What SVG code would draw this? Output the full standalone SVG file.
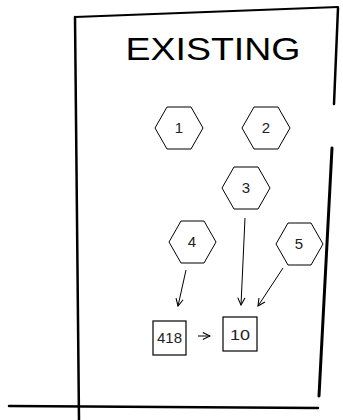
<svg xmlns="http://www.w3.org/2000/svg" width="343" height="420" viewBox="0 0 343 420">
<style>
.frame{stroke:#000;stroke-linecap:round;fill:none}
.hex{fill:#fff;stroke:#000;stroke-width:1}
.num{font-family:"Liberation Sans",Arial,sans-serif;font-size:15px;fill:#222;text-anchor:middle}
.con{stroke:#000;stroke-width:1;fill:none}
.box{fill:#fff;stroke:#000;stroke-width:1.2}
</style>
<defs>
<marker id="ah" viewBox="0 0 10 10" refX="9" refY="5" markerWidth="9" markerHeight="9" orient="auto" markerUnits="userSpaceOnUse">
<path d="M1,1 L9,5 L1,9" fill="none" stroke="#000" stroke-width="1.2"/>
</marker>
</defs>
<rect width="343" height="420" fill="#fff"/>
<g id="frame">
<path class="frame" stroke-width="2" d="M75,17 L338,7"/>
<path class="frame" stroke-width="2.5" d="M75,17 L79,420"/>
<path class="frame" stroke-width="2.5" d="M338,8 L334,104"/>
<path class="frame" stroke-width="3" d="M332,148 L319,396"/>
<path class="frame" stroke-width="2.5" d="M9,406 L318,408"/>
</g>
<g id="title">
<text x="213" y="60" text-anchor="middle" font-family="'Liberation Sans',Arial,sans-serif" font-size="32" textLength="175" lengthAdjust="spacingAndGlyphs" fill="#000">EXISTING</text>
</g>
<g id="n1"><polygon class="hex" points="155,128 167,107 191,107 203,128 191,149 167,149"/><text class="num" x="179" y="133">1</text></g>
<g id="n2"><polygon class="hex" points="242,128 254,107 278,107 290,128 278,149 254,149"/><text class="num" x="266" y="133">2</text></g>
<g id="n3"><polygon class="hex" points="222,188 234,167 258,167 270,188 258,209 234,209"/><text class="num" x="246" y="193">3</text></g>
<g id="n4"><polygon class="hex" points="169,242 181,221 204,221 216,242 204,263 181,263"/><text class="num" x="192" y="247">4</text></g>
<g id="n5"><polygon class="hex" points="276,244 288,223 311,223 323,244 311,265 288,265"/><text class="num" x="299" y="249">5</text></g>
<g id="b418"><rect class="box" x="153" y="321" width="33" height="34"/><text class="num" x="169.5" y="343" font-size="12">418</text></g>
<g id="b10"><rect class="box" x="223" y="317" width="34" height="34"/><text class="num" x="240" y="340" font-size="15" textLength="20" lengthAdjust="spacingAndGlyphs">10</text></g>
<g id="connectors">
<path class="con" d="M186,270 L178,306" marker-end="url(#ah)"/>
<path class="con" d="M245,218 L241,305" marker-end="url(#ah)"/>
<path class="con" d="M283,268 L258,306" marker-end="url(#ah)"/>
<path class="con" d="M198,336 L210,336" marker-end="url(#ah)"/>
</g>
</svg>
